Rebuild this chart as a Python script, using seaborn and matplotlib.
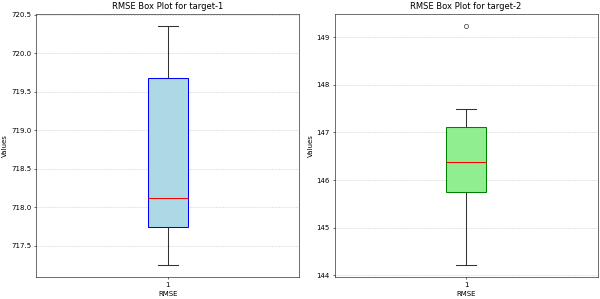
import matplotlib
matplotlib.use("Agg")
import matplotlib.pyplot as plt
import pandas as pd
import seaborn as sns

# RMSE values per run
target1_rmse = [717.25, 717.74, 718.12, 719.68, 720.36]
target2_rmse = [144.22, 145.30, 145.74, 146.05, 146.37, 146.80, 147.12, 147.49, 149.24]

targets = ["target-1", "target-2"]
face_colors = ["lightblue", "lightgreen"]
edge_colors = ["blue", "green"]

fig, axes = plt.subplots(1, 2, figsize=(12, 5.98), dpi=50)

for ax, name, vals, fc, ec in zip(axes, targets, [target1_rmse, target2_rmse], face_colors, edge_colors):
    df = pd.DataFrame({"RMSE": ["1"] * len(vals), "Values": vals})
    sns.boxplot(data=df, x="RMSE", y="Values", ax=ax, width=0.15,
                color=fc, saturation=1, linecolor="#333333", linewidth=1.5,
                medianprops=dict(color="red"),
                flierprops=dict(marker="o", markerfacecolor="none",
                                markeredgecolor="#333333", markersize=6))
    for p in ax.patches:
        p.set_edgecolor(ec)
    ax.set_title("RMSE Box Plot for " + name, fontsize=12)
    ax.set_xlabel("RMSE")
    ax.set_ylabel("Values")
    ax.set_xlim(-0.5, 0.5)
    ax.grid(axis="y", linestyle="--", alpha=0.6)

plt.tight_layout(pad=0.35, w_pad=1.2)
plt.savefig("out.png")
